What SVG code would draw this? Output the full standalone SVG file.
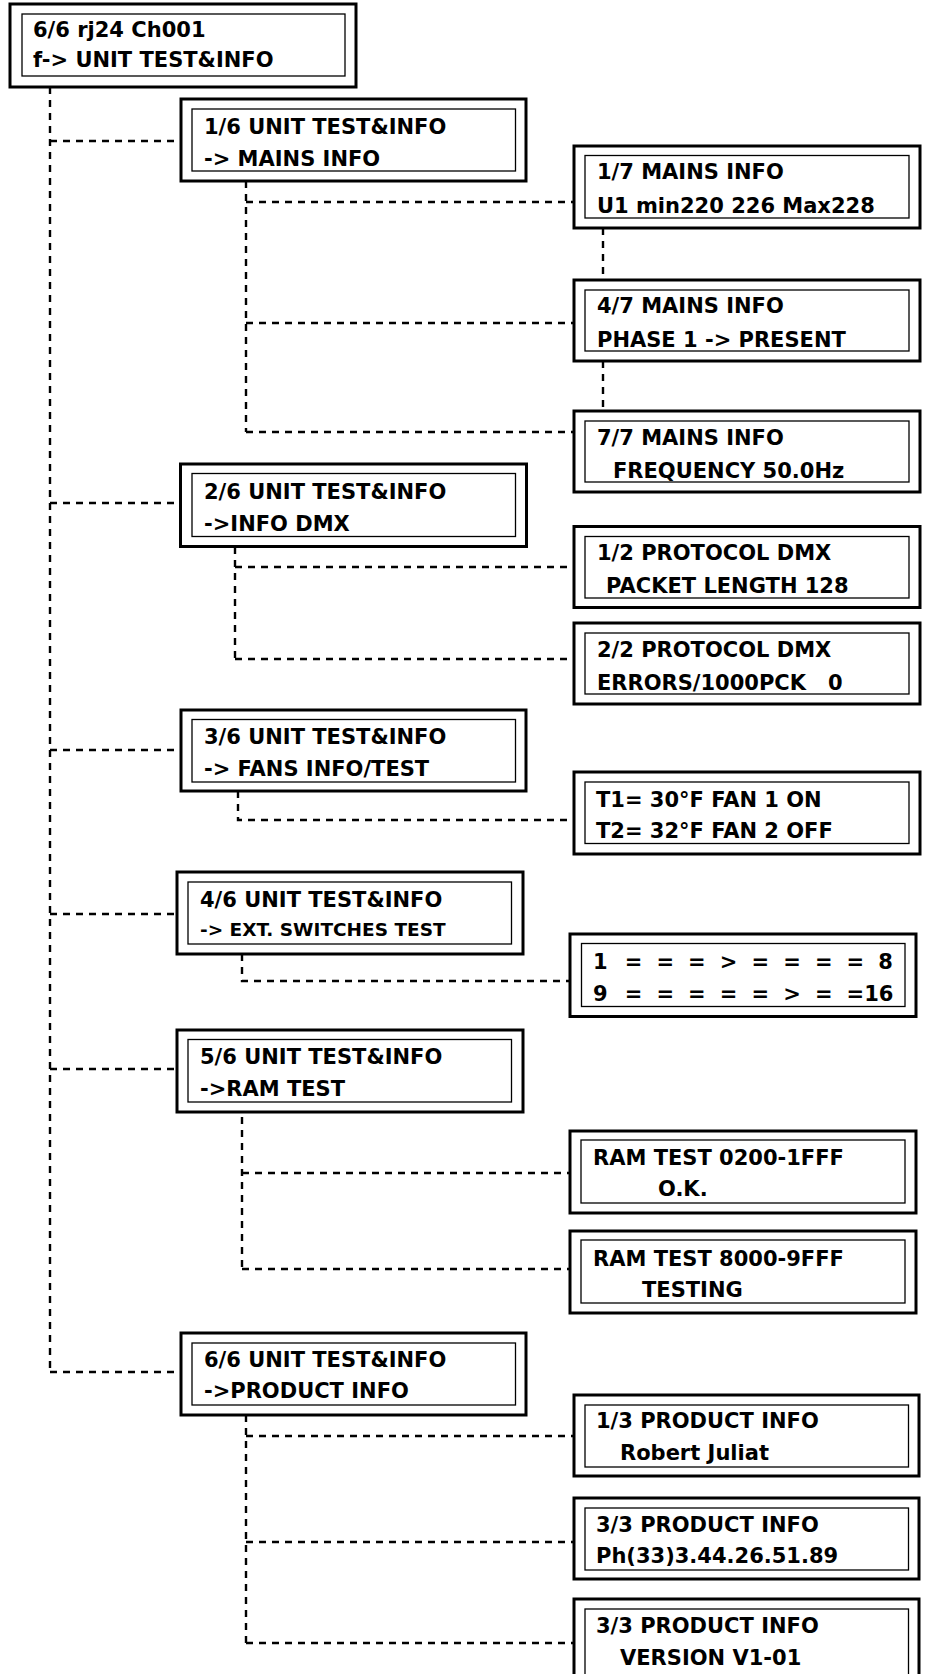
<svg xmlns="http://www.w3.org/2000/svg" width="928" height="1674" viewBox="0 0 928 1674">
<style>
.outer{fill:#fff;stroke:#000;stroke-width:3}
.inner{fill:none;stroke:#000;stroke-width:1.3}
.t{font-family:"DejaVu Sans","Open Sans",sans-serif;font-weight:700;font-size:21px;fill:#000}
.s{font-size:18.5px}
.conn{fill:none;stroke:#000;stroke-width:2.4;stroke-dasharray:7 6}
</style>
<rect width="928" height="1674" fill="#fff"/>
<g id="connectors">
<path class="conn" d="M50,87 V1372 M50,141 H181 M50,503 H180 M50,750 H181 M50,914 H177 M50,1069 H177 M50,1372 H181"/>
<path class="conn" d="M246,181 V432 M246,202 H574 M246,323 H574 M246,432 H574"/>
<path class="conn" d="M603,228 V280 M603,361 V411"/>
<path class="conn" d="M235,547 V659 M235,567 H574 M235,659 H574"/>
<path class="conn" d="M238,791 V820 H574"/>
<path class="conn" d="M242,954 V981 H570"/>
<path class="conn" d="M242,1117 V1269 M242,1173 H570 M242,1269 H570"/>
<path class="conn" d="M246,1415 V1643 M246,1436 H574 M246,1542 H574 M246,1643 H574"/>
</g>
<g id="n-top"><rect class="outer" x="10" y="4" width="346" height="83"/><rect class="inner" x="22" y="14" width="323" height="62"/>
<text class="t" x="33" y="37">6/6 rj24 Ch001</text><text class="t" x="33" y="67">f-&gt; UNIT TEST&amp;INFO</text></g>
<g id="n-1-6"><rect class="outer" x="181" y="99" width="345" height="82"/><rect class="inner" x="192" y="109" width="323.5" height="62"/>
<text class="t" x="204" y="134">1/6 UNIT TEST&amp;INFO</text><text class="t" x="204" y="166">-&gt; MAINS INFO</text></g>
<g id="n-2-6"><rect class="outer" x="180.5" y="464" width="346" height="82.5"/><rect class="inner" x="192" y="473.5" width="323.5" height="63"/>
<text class="t" x="204" y="499">2/6 UNIT TEST&amp;INFO</text><text class="t" x="204" y="531">-&gt;INFO DMX</text></g>
<g id="n-3-6"><rect class="outer" x="181" y="710" width="345" height="81"/><rect class="inner" x="192" y="719.5" width="323.5" height="62.5"/>
<text class="t" x="204" y="744">3/6 UNIT TEST&amp;INFO</text><text class="t" x="204" y="776">-&gt; FANS INFO/TEST</text></g>
<g id="n-4-6"><rect class="outer" x="177" y="872" width="346" height="82"/><rect class="inner" x="188" y="882" width="323.5" height="62"/>
<text class="t" x="200" y="907">4/6 UNIT TEST&amp;INFO</text><text class="t s" x="200" y="936">-&gt; EXT. SWITCHES TEST</text></g>
<g id="n-5-6"><rect class="outer" x="177" y="1030" width="346" height="82"/><rect class="inner" x="188" y="1039.5" width="323.5" height="62.5"/>
<text class="t" x="200" y="1064">5/6 UNIT TEST&amp;INFO</text><text class="t" x="200" y="1096">-&gt;RAM TEST</text></g>
<g id="n-6-6"><rect class="outer" x="181" y="1333" width="345" height="82"/><rect class="inner" x="192" y="1343" width="323.5" height="62"/>
<text class="t" x="204" y="1367">6/6 UNIT TEST&amp;INFO</text><text class="t" x="204" y="1398">-&gt;PRODUCT INFO</text></g>
<g id="n-mains-1"><rect class="outer" x="574" y="146" width="346" height="82"/><rect class="inner" x="585" y="155.5" width="324" height="62.5"/>
<text class="t" x="597" y="179">1/7 MAINS INFO</text><text class="t" x="597" y="213">U1 min220 226 Max228</text></g>
<g id="n-mains-4"><rect class="outer" x="574" y="280" width="346" height="81"/><rect class="inner" x="585" y="290" width="324" height="61"/>
<text class="t" x="597" y="313">4/7 MAINS INFO</text><text class="t" x="597" y="347">PHASE 1 -&gt; PRESENT</text></g>
<g id="n-mains-7"><rect class="outer" x="574" y="411" width="346" height="81"/><rect class="inner" x="585" y="421" width="324" height="61"/>
<text class="t" x="597" y="445">7/7 MAINS INFO</text><text class="t" x="613" y="478">FREQUENCY 50.0Hz</text></g>
<g id="n-dmx-1"><rect class="outer" x="574" y="526.5" width="346" height="81"/><rect class="inner" x="585" y="536.5" width="324" height="61.5"/>
<text class="t" x="597" y="560">1/2 PROTOCOL DMX</text><text class="t" x="606" y="593">PACKET LENGTH 128</text></g>
<g id="n-dmx-2"><rect class="outer" x="574" y="623" width="346" height="81"/><rect class="inner" x="585" y="633" width="324" height="61"/>
<text class="t" x="597" y="657">2/2 PROTOCOL DMX</text><text class="t" x="597" y="690" xml:space="preserve">ERRORS/1000PCK   0</text></g>
<g id="n-fans"><rect class="outer" x="574" y="772" width="346" height="82"/><rect class="inner" x="585" y="782" width="324" height="61.5"/>
<text class="t" x="596" y="807">T1= 30°F FAN 1 ON</text><text class="t" x="596" y="838">T2= 32°F FAN 2 OFF</text></g>
<g id="n-switches"><rect class="outer" x="570" y="934" width="346" height="82.5"/><rect class="inner" x="581.5" y="943.5" width="323.5" height="63"/>
<text class="t" x="593 624.7 656.4 688.1 719.8 751.5 783.2 814.9 846.6 878.3" y="969">1===&gt;====8</text><text class="t" x="593 624.7 656.4 688.1 719.8 751.5 783.2 814.9 846.6" y="1001">9=====&gt;==16</text></g>
<g id="n-ram-1"><rect class="outer" x="570" y="1131" width="346" height="82"/><rect class="inner" x="581" y="1140" width="324" height="63"/>
<text class="t" x="593" y="1165">RAM TEST 0200-1FFF</text><text class="t" x="658" y="1196">O.K.</text></g>
<g id="n-ram-2"><rect class="outer" x="570" y="1231" width="346" height="82"/><rect class="inner" x="581" y="1240" width="324" height="63"/>
<text class="t" x="593" y="1266">RAM TEST 8000-9FFF</text><text class="t" x="642" y="1297">TESTING</text></g>
<g id="n-prod-1"><rect class="outer" x="574" y="1395" width="345" height="81"/><rect class="inner" x="585" y="1405" width="323.5" height="62"/>
<text class="t" x="596" y="1428">1/3 PRODUCT INFO</text><text class="t" x="620" y="1460">Robert Juliat</text></g>
<g id="n-prod-2"><rect class="outer" x="574" y="1498" width="345" height="81"/><rect class="inner" x="585" y="1508" width="323.5" height="62"/>
<text class="t" x="596" y="1532">3/3 PRODUCT INFO</text><text class="t" x="596" y="1563">Ph(33)3.44.26.51.89</text></g>
<g id="n-prod-3"><rect class="outer" x="574" y="1599" width="345" height="90"/><rect class="inner" x="585" y="1609" width="323.5" height="70"/>
<text class="t" x="596" y="1633">3/3 PRODUCT INFO</text><text class="t" x="620" y="1665">VERSION V1-01</text></g>
</svg>
